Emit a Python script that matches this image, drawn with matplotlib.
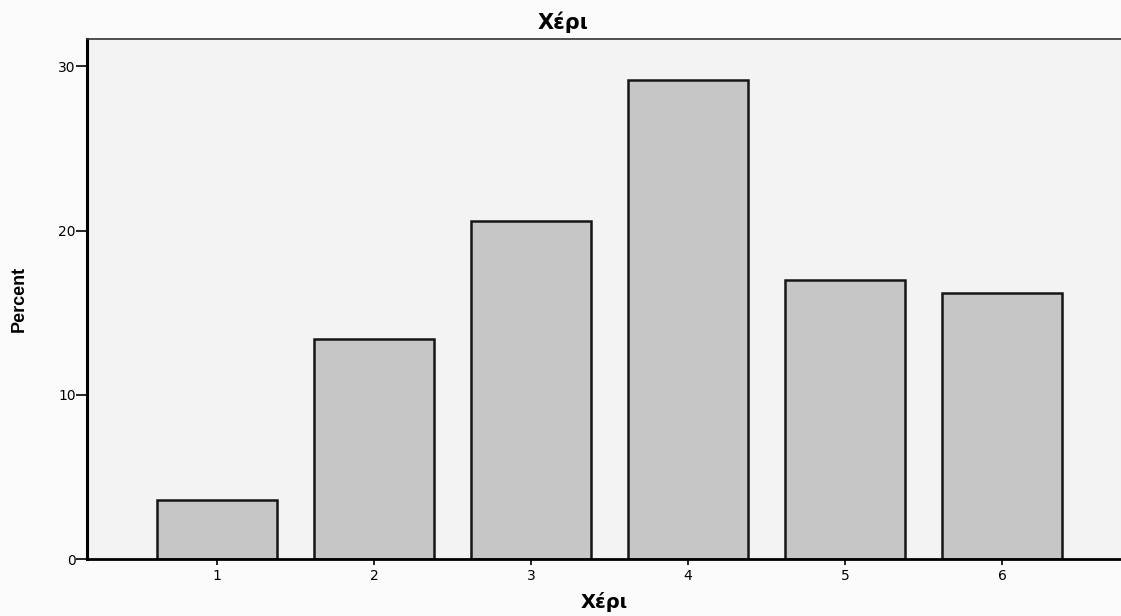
import matplotlib
matplotlib.use("Agg")
import matplotlib.pyplot as plt

# data
categories = [1, 2, 3, 4, 5, 6]
percent = [3.6, 13.4, 20.6, 29.2, 17.0, 16.2]
y_ticks = [0, 10, 20, 30]

plt.rcParams['font.family'] = ['DejaVu Sans']

fig = plt.figure(figsize=(11.21, 6.16), dpi=100)
fig.patch.set_facecolor('#fbfbfb')
ax = fig.add_axes([0.0776, 0.0925, 0.9224, 0.8442])
ax.set_facecolor('#f3f3f3')

ax.bar(categories, percent, width=0.76, color='#c6c6c6',
       edgecolor='#151515', linewidth=1.8, zorder=2)

ax.set_xlim(0.172, 6.758)
ax.set_ylim(0, 31.67)
ax.set_xticks(categories)
ax.set_yticks(y_ticks)
ax.tick_params(axis='y', direction='out', length=8, width=1.2, labelsize=10, pad=0)
ax.tick_params(axis='x', direction='out', length=4, width=1.2, labelsize=10, pad=3)

ax.spines['left'].set_linewidth(2.2)
ax.spines['bottom'].set_linewidth(2.0)
ax.spines['top'].set_linewidth(1.2)
ax.spines['top'].set_color('#333333')
ax.spines['right'].set_visible(False)

ax.set_title('Χέρι', fontsize=15, fontweight='bold', x=0.46, pad=7)
ax.set_xlabel('Χέρι', fontsize=14, fontweight='bold', labelpad=7)
ax.set_ylabel('Percent', fontsize=13, fontweight='bold',
              family=['Liberation Sans Narrow', 'Liberation Sans', 'DejaVu Sans'])
ax.yaxis.set_label_coords(-0.057, 0.5)

plt.savefig('out.png', dpi=100, facecolor=fig.get_facecolor())
